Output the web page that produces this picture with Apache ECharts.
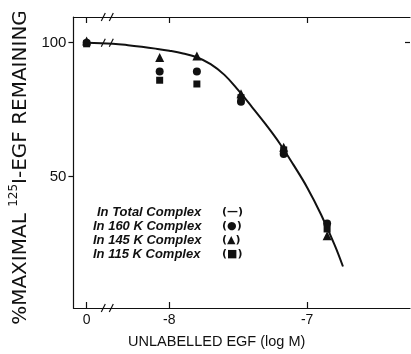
<!DOCTYPE html>
<html>
<head>
<meta charset="utf-8">
<script src="https://cdn.jsdelivr.net/npm/echarts@6/dist/echarts.min.js"></script>
<style>
  html, body { margin: 0; padding: 0; background: #fff; }
  #chartContainer { width: 411px; height: 354px; }
</style>
</head>
<body>
<div id="chartContainer"></div>
<script>
// Concentrations in log M; the control (no unlabelled EGF) sits at -8.6 and is labelled "0"
const controlX = -8.6;
const breakX = -8.45;

// Measured points for the three complexes
const doseX = [controlX, -8.07, -7.8, -7.48, -7.17, -6.855];
const complex160 = [100, 89.3, 89.3, 78, 58.5, 32.5];
const complex145 = [100.6, 94.5, 95, 81, 61, 28];
const complex115 = [99.6, 86, 84.6, 79.5, 60, 30.5];

// Fitted curve for the total complex
const curveX = [controlX, -8.41, -8.3, -8.2, -8.1, -8.0, -7.9, -7.8, -7.7, -7.6, -7.5, -7.4, -7.3, -7.2, -7.1, -7.0, -6.9, -6.8, -6.74];
const curveY = [100, 99.6, 99.1, 98.5, 97.8, 97.0, 96.0, 94.6, 92.0, 88.0, 82.3, 76.0, 69.5, 62.5, 54.5, 46.0, 36.0, 24.5, 16.5];

// Tick positions
const xTicks = [controlX, -8, -7];
const yTicks = [50, 100];

const legendLabels = ['In Total Complex', 'In 160 K Complex', 'In 145 K Complex', 'In 115 K Complex'];
const legendKeys = ['(—)', '(●)', '(▲)', '(■)'];

const xMin = -8.6957, xMax = -6.2536;
const yMin = 1, yMax = 109.6;

const ink = '#111';
const font = 'Liberation Sans, Arial, sans-serif';

const chartContainer = document.getElementById('chartContainer');
const chart = echarts.init(chartContainer);

function pairs(xs, ys) {
  return xs.map(function (x, i) { return [x, ys[i]]; });
}

function formatX(v) {
  if (Math.abs(v - controlX) < 1e-6) return '0';
  return String(Math.round(v));
}

const axisLineStyle = { color: ink, width: 1.2 };

const options = {
  animation: false,
  backgroundColor: '#fff',
  grid: { left: 73, right: 1, top: 17, bottom: 42, containLabel: false },
  xAxis: [
    {
      type: 'value', position: 'bottom', min: xMin, max: xMax,
      axisLine: { show: true, lineStyle: axisLineStyle },
      axisTick: { show: true, inside: true, length: 6, customValues: xTicks, lineStyle: axisLineStyle },
      axisLabel: { customValues: xTicks, formatter: formatX, margin: 5, fontSize: 14, color: ink, fontFamily: font },
      splitLine: { show: false },
      name: 'UNLABELLED EGF (log M)', nameLocation: 'middle', nameGap: 26,
      nameTextStyle: { fontSize: 14.5, color: ink, fontFamily: font, padding: [0, 50, 0, 0] }
    },
    {
      type: 'value', position: 'top', min: xMin, max: xMax,
      axisLine: { show: true, lineStyle: axisLineStyle },
      axisTick: { show: true, inside: true, length: 6, customValues: xTicks, lineStyle: axisLineStyle },
      axisLabel: { show: false },
      splitLine: { show: false }
    }
  ],
  yAxis: [
    {
      type: 'value', position: 'left', min: yMin, max: yMax,
      axisLine: { show: true, lineStyle: axisLineStyle },
      axisTick: { show: true, inside: false, length: 5, customValues: yTicks, lineStyle: axisLineStyle },
      axisLabel: { customValues: yTicks, margin: 7, fontSize: 15, color: ink, fontFamily: font },
      splitLine: { show: false },
      name: '%MAXIMAL {sup|125}I-EGF REMAINING', nameLocation: 'middle', nameGap: 38, nameRotate: 90,
      nameTextStyle: {
        fontSize: 20, color: ink, fontFamily: 'DejaVu Sans, sans-serif', padding: [0, 10, 0, 0],
        rich: { sup: { fontSize: 12, color: ink, fontFamily: 'DejaVu Sans, sans-serif', padding: [0, 0, 13, 0] } }
      }
    },
    {
      type: 'value', position: 'right', min: yMin, max: yMax,
      axisLine: { show: false },
      axisTick: { show: true, inside: true, length: 5, customValues: [100], lineStyle: axisLineStyle },
      axisLabel: { show: false },
      splitLine: { show: false }
    }
  ],
  series: [
    {
      name: 'Total Complex', type: 'line', smooth: 0.4, symbol: 'none',
      lineStyle: { color: ink, width: 2 },
      data: pairs(curveX, curveY), z: 2
    },
    {
      name: '115 K Complex', type: 'scatter', symbol: 'rect', symbolSize: 7,
      itemStyle: { color: ink, opacity: 1 }, data: pairs(doseX, complex115), z: 3
    },
    {
      name: '145 K Complex', type: 'scatter', symbol: 'triangle', symbolSize: 9,
      itemStyle: { color: ink, opacity: 1 }, data: pairs(doseX, complex145), z: 3
    },
    {
      name: '160 K Complex', type: 'scatter', symbol: 'circle', symbolSize: 8,
      itemStyle: { color: ink, opacity: 1 }, data: pairs(doseX, complex160), z: 3
    }
  ]
};

chart.setOption(options);

// Axis break marks "//" where the scale jumps from the control to the doses
function breakMark(p) {
  return {
    type: 'group', x: p[0], y: p[1], z: 100,
    children: [
      { type: 'rect', shape: { x: -5, y: -4, width: 10, height: 8 }, style: { fill: '#fff' } },
      { type: 'line', shape: { x1: -6, y1: 4, x2: -2, y2: -4 }, style: { stroke: ink, lineWidth: 1.2 } },
      { type: 'line', shape: { x1: 2, y1: 4, x2: 6, y2: -4 }, style: { stroke: ink, lineWidth: 1.2 } }
    ]
  };
}

const toPx = function (x, y) {
  return chart.convertToPixel({ xAxisIndex: 0, yAxisIndex: 0 }, [x, y]);
};

const graphics = [
  breakMark(toPx(breakX, yMin)),
  breakMark(toPx(breakX, yMax)),
  breakMark(toPx(breakX, 100))
];

legendLabels.forEach(function (label, i) {
  const top = 206 + i * 13.9;
  graphics.push({
    type: 'text', left: i === 0 ? 97 : 93, top: top, z: 100,
    style: { text: label, fill: ink, font: 'italic bold 13px ' + font }
  });
  graphics.push({
    type: 'text', left: 222, top: top + 1, z: 100,
    style: { text: legendKeys[i], fill: ink, font: 'bold 11px DejaVu Sans, sans-serif' }
  });
});

chart.setOption({ graphic: graphics });
</script>
</body>
</html>
